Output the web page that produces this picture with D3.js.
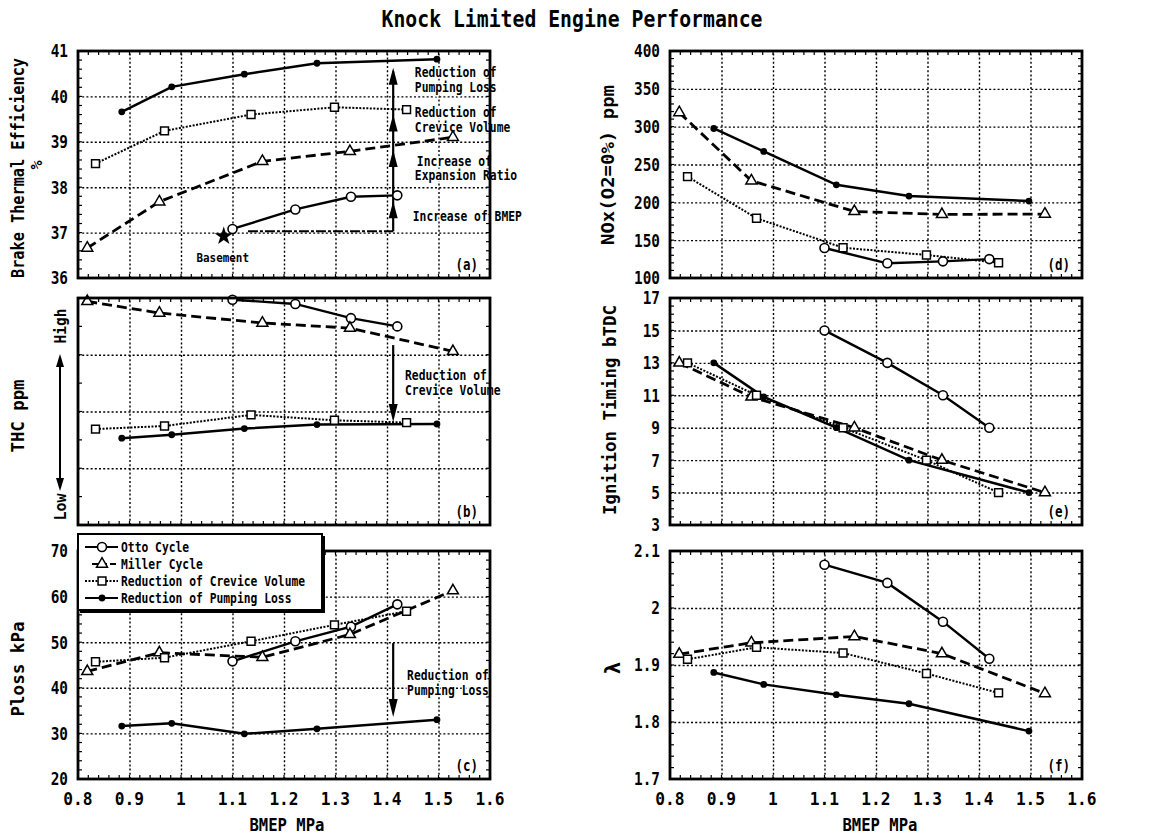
<!DOCTYPE html>
<html>
<head>
<meta charset="utf-8">
<script src="https://cdn.jsdelivr.net/npm/d3@7"></script>
<style>
  body { margin: 0; background: #fff; }
  text { font-family: 'DejaVu Sans Mono', 'Liberation Mono', monospace; font-weight: bold; fill: #000; }
</style>
</head>
<body>
<svg id="chart" width="1157" height="834"></svg>
<script>
// BMEP (MPa) of each test series
const bmepOtto = [1.10, 1.222, 1.33, 1.42];
const bmepMiller = [0.818, 0.958, 1.158, 1.328, 1.528];
const bmepCrevice = [0.834, 0.968, 1.136, 1.298, 1.438];
const bmepPumping = [0.885, 0.982, 1.123, 1.264, 1.497];

// (a) brake thermal efficiency %
const effOtto = [37.08, 37.51, 37.79, 37.82];
const effMiller = [36.66, 37.68, 38.57, 38.79, 39.10];
const effCrevice = [38.52, 39.24, 39.60, 39.76, 39.71];
const effPumping = [39.66, 40.21, 40.49, 40.73, 40.82];

// (b) THC, relative (low .. high)
const thcOtto = [7.94, 7.79, 7.29, 7.0];
const thcMiller = [7.88, 7.47, 7.12, 6.94, 6.12];
const thcCrevice = [3.38, 3.49, 3.88, 3.69, 3.61];
const thcPumping = [3.06, 3.18, 3.40, 3.54, 3.56];

// (c) Ploss kPa
const plossOtto = [45.8, 50.2, 53.4, 58.3];
const plossMiller = [43.6, 47.7, 46.7, 51.7, 61.3];
const plossCrevice = [45.7, 46.6, 50.2, 53.8, 56.8];
const plossPumping = [31.6, 32.2, 29.9, 31.0, 33.0];

// (d) NOx ppm
const noxOtto = [139.6, 119.4, 122, 125];
const noxMiller = [318.7, 228.5, 188, 184, 184.5];
const noxCrevice = [234, 179, 140, 130.4, 120.2];
const noxPumping = [297.6, 267.3, 223.2, 208.3, 201.7];

// (e) ignition timing bTDC
const ignOtto = [15, 13, 11, 9];
const ignMiller = [13, 10.9, 9.0, 7.0, 5.0];
const ignCrevice = [13, 11, 9, 7, 5];
const ignPumping = [13, 10.9, 9.0, 7.0, 5.0];

// (f) lambda
const lamOtto = [2.076, 2.044, 1.976, 1.911];
const lamMiller = [1.919, 1.939, 1.950, 1.920, 1.850];
const lamCrevice = [1.910, 1.931, 1.921, 1.885, 1.851];
const lamPumping = [1.887, 1.866, 1.848, 1.832, 1.784];

// tick labels
const bmepTicks = [0.8, 0.9, 1, 1.1, 1.2, 1.3, 1.4, 1.5, 1.6];
const effTicks = [36, 37, 38, 39, 40, 41];
const thcTicks = [0, 2, 4, 6, 8];
const plossTicks = [20, 30, 40, 50, 60, 70];
const noxTicks = [100, 150, 200, 250, 300, 350, 400];
const ignTicks = [3, 5, 7, 9, 11, 13, 15, 17];
const lamTicks = [1.7, 1.8, 1.9, 2, 2.1];

const seriesNames = ['Otto Cycle', 'Miller Cycle', 'Reduction of Crevice Volume', 'Reduction of Pumping Loss'];
const seriesBmep = [bmepOtto, bmepMiller, bmepCrevice, bmepPumping];
const lineDash = [null, '10,5', '2,1.5', null];
const lineWidth = [2.4, 2.8, 2, 2.5];
const markerKind = ['circle', 'triangle', 'square', 'dot'];

const svg = d3.select('#chart');
const rows = [[51, 278], [298, 525], [551, 779]];
const cols = [[78, 490], [670, 1082]];

// the original uses a narrow gothic font, so squeeze the monospace glyphs
function squeeze(sel, k, origin) {
    sel.style('transform-box', 'fill-box')
        .style('transform-origin', origin || 'center')
        .style('transform', 'scaleX(' + k + ')');
}

function fmt(d) { return String(+d.toFixed(2)); }

function drawMarker(g, kind, cx, cy) {
    if (kind === 'circle') {
        g.append('circle').attr('cx', cx).attr('cy', cy).attr('r', 4.5)
            .attr('fill', '#fff').attr('stroke', '#000').attr('stroke-width', 1.6);
    } else if (kind === 'dot') {
        g.append('circle').attr('cx', cx).attr('cy', cy).attr('r', 3.4).attr('fill', '#000');
    } else {
        const sym = kind === 'triangle' ? d3.symbol(d3.symbolTriangle, 52) : d3.symbol(d3.symbolSquare, 62);
        g.append('path').attr('transform', 'translate(' + cx + ',' + cy + ')').attr('d', sym())
            .attr('fill', '#fff').attr('stroke', '#000').attr('stroke-width', 1.5);
    }
}

function arrowHead(g, px, py, dir, w, h) {
    // dir = -1 points up, +1 points down; (px,py) is the tip
    g.append('path')
        .attr('d', 'M' + px + ',' + py + 'L' + (px - w / 2) + ',' + (py - dir * h) + 'L' + (px + w / 2) + ',' + (py - dir * h) + 'Z')
        .attr('fill', '#000');
}

function drawPanel(p) {
    const [x0, x1] = cols[p.col];
    const [y0, y1] = rows[p.row];
    const x = d3.scaleLinear().domain([0.8, 1.6]).range([x0, x1]);
    const y = d3.scaleLinear().domain([p.ticks[0], p.ticks[p.ticks.length - 1]]).range([y1, y0]);
    const g = svg.append('g');

    // dotted grid at the major ticks
    g.append('g').attr('transform', 'translate(0,' + y1 + ')')
        .call(d3.axisBottom(x).tickValues(bmepTicks.slice(1, -1)).tickSize(-(y1 - y0)).tickFormat(''))
        .call(s => s.select('.domain').remove())
        .selectAll('line').attr('stroke', '#000').attr('stroke-width', 1.4).attr('stroke-dasharray', '2,2.2');
    g.append('g').attr('transform', 'translate(' + x0 + ',0)')
        .call(d3.axisLeft(y).tickValues(p.ticks.slice(1, -1)).tickSize(-(x1 - x0)).tickFormat(''))
        .call(s => s.select('.domain').remove())
        .selectAll('line').attr('stroke', '#000').attr('stroke-width', 1.4).attr('stroke-dasharray', '2,2.2');

    // minor ticks on the inside of all four sides
    const lo = p.ticks[0], hi = p.ticks[p.ticks.length - 1];
    const yMinor = d3.range(lo + p.minor, hi - p.minor / 2, p.minor);
    const xMinor = d3.range(0.82, 1.59, 0.02);
    const tk = g.append('g').attr('stroke', '#000').attr('stroke-width', 1.2);
    xMinor.forEach(v => {
        tk.append('line').attr('x1', x(v)).attr('x2', x(v)).attr('y1', y1).attr('y2', y1 - 4);
        tk.append('line').attr('x1', x(v)).attr('x2', x(v)).attr('y1', y0).attr('y2', y0 + 4);
    });
    yMinor.forEach(v => {
        tk.append('line').attr('y1', y(v)).attr('y2', y(v)).attr('x1', x0).attr('x2', x0 + 4);
        tk.append('line').attr('y1', y(v)).attr('y2', y(v)).attr('x1', x1).attr('x2', x1 - 4);
    });

    // tick labels
    if (p.yLabels) {
        g.append('g').selectAll('text').data(p.ticks).join('text')
            .attr('x', x0 - 10).attr('y', d => y(d)).attr('dy', '0.36em')
            .attr('text-anchor', 'end').style('font-size', '18px').text(fmt)
            .call(squeeze, 0.8, 'right center');
    }
    if (p.xLabels) {
        g.append('g').selectAll('text').data(bmepTicks).join('text')
            .attr('x', d => x(d)).attr('y', y1 + 26)
            .attr('text-anchor', 'middle').style('font-size', '18px').text(fmt)
            .call(squeeze, 0.9, 'center');
    }

    // lines then markers
    const line = d3.line().x(d => x(d[0])).y(d => y(d[1]));
    const lineG = g.append('g');
    const markG = g.append('g');
    p.values.forEach((vals, i) => {
        const pts = d3.zip(seriesBmep[i], vals);
        lineG.append('path').datum(pts).attr('d', line)
            .attr('fill', 'none').attr('stroke', '#000')
            .attr('stroke-width', lineWidth[i])
            .attr('stroke-dasharray', lineDash[i]);
        pts.forEach(d => drawMarker(markG, markerKind[i], x(d[0]), y(d[1])));
    });
    const noteG = g.append('g');
    markG.raise();

    // frame and panel tag
    g.append('rect').attr('x', x0).attr('y', y0).attr('width', x1 - x0).attr('height', y1 - y0)
        .attr('fill', 'none').attr('stroke', '#000').attr('stroke-width', 2.8);
    g.append('text').attr('x', x1 - 12).attr('y', y1 - 8).attr('text-anchor', 'end')
        .style('font-size', '16px').text(p.tag).call(squeeze, 0.78, 'right center');

    return {x: x, y: y, g: noteG};
}

const panels = [
    {tag: '(a)', col: 0, row: 0, ticks: effTicks, minor: 0.2, yLabels: true, values: [effOtto, effMiller, effCrevice, effPumping]},
    {tag: '(b)', col: 0, row: 1, ticks: thcTicks, minor: 1, yLabels: false, values: [thcOtto, thcMiller, thcCrevice, thcPumping]},
    {tag: '(c)', col: 0, row: 2, ticks: plossTicks, minor: 2, yLabels: true, xLabels: true, values: [plossOtto, plossMiller, plossCrevice, plossPumping]},
    {tag: '(d)', col: 1, row: 0, ticks: noxTicks, minor: 10, yLabels: true, values: [noxOtto, noxMiller, noxCrevice, noxPumping]},
    {tag: '(e)', col: 1, row: 1, ticks: ignTicks, minor: 0.5, yLabels: true, values: [ignOtto, ignMiller, ignCrevice, ignPumping]},
    {tag: '(f)', col: 1, row: 2, ticks: lamTicks, minor: 0.02, yLabels: true, xLabels: true, values: [lamOtto, lamMiller, lamCrevice, lamPumping]}
];
const drawn = panels.map(drawPanel);

function note(g, px, py, str, size) {
    g.append('text').attr('x', px).attr('y', py).attr('dy', '0.35em')
        .style('font-size', (size || 13.5) + 'px')
        .attr('stroke', '#fff').attr('stroke-width', 3).attr('paint-order', 'stroke')
        .text(str).call(squeeze, 0.84, 'left center');
}

// (a) step-by-step improvements
(function() {
    const {x, y, g} = drawn[0];
    g.append('line').attr('x1', x(1.13)).attr('x2', x(1.412)).attr('y1', y(37.03)).attr('y2', y(37.03))
        .attr('stroke', '#000').attr('stroke-width', 2).attr('stroke-dasharray', '10,2,3,2');
    g.append('line').attr('x1', x(1.412)).attr('x2', x(1.412)).attr('y1', y(37.03)).attr('y2', y(40.55))
        .attr('stroke', '#000').attr('stroke-width', 2.2);
    [37.69, 38.82, 39.60, 40.63].forEach(v => arrowHead(g, x(1.412), y(v), -1, 9, 17));
    g.append('path').attr('transform', 'translate(' + x(1.083) + ',' + y(36.92) + ')')
        .attr('d', d3.symbol(d3.symbolStar, 105)()).attr('fill', '#000');
    g.append('text').attr('x', x(1.081)).attr('y', y(36.46)).attr('dy', '0.35em')
        .attr('text-anchor', 'middle').style('font-size', '13px').text('Basement')
        .call(squeeze, 0.84, 'center');
    note(g, x(1.454), y(40.54), 'Reduction of');
    note(g, x(1.454), y(40.21), 'Pumping Loss');
    note(g, x(1.454), y(39.66), 'Reduction of');
    note(g, x(1.454), y(39.33), 'Crevice Volume');
    note(g, x(1.458), y(38.57), 'Increase of');
    note(g, x(1.454), y(38.26), 'Expansion Ratio');
    note(g, x(1.45), y(37.36), 'Increase of BMEP');
})();

// (b) THC drop by crevice volume
(function() {
    const {x, y, g} = drawn[1];
    g.append('line').attr('x1', x(1.412)).attr('x2', x(1.412)).attr('y1', y(6.34)).attr('y2', y(4.1))
        .attr('stroke', '#000').attr('stroke-width', 2.2);
    arrowHead(g, x(1.412), y(3.63), 1, 9, 18);
    note(g, x(1.435), y(5.29), 'Reduction of');
    note(g, x(1.435), y(4.76), 'Crevice Volume');
})();

// (c) Ploss drop by pumping loss
(function() {
    const {x, y, g} = drawn[2];
    g.append('line').attr('x1', x(1.412)).attr('x2', x(1.412)).attr('y1', y(49.8)).attr('y2', y(36))
        .attr('stroke', '#000').attr('stroke-width', 2.2);
    arrowHead(g, x(1.412), y(33.6), 1, 9, 18);
    note(g, x(1.439), y(42.8), 'Reduction of');
    note(g, x(1.439), y(39.5), 'Pumping Loss');
})();

// rotated axis titles
function vtitle(cx, cy, str, len, size) {
    const t = svg.append('g').attr('transform', 'translate(' + cx + ',' + cy + ') rotate(-90)')
        .append('text').attr('text-anchor', 'middle').attr('dy', '0.36em')
        .style('font-size', (size || 18) + 'px').text(str);
    if (len) t.attr('textLength', len).attr('lengthAdjust', 'spacingAndGlyphs');
}
vtitle(18, 168, 'Brake Thermal Efficiency', 220);
vtitle(37, 165, '%', null, 15);
vtitle(18, 416, 'THC    ppm', 73);
vtitle(60, 326, 'High', 35, 16);
vtitle(60, 507, 'Low', 27, 16);
vtitle(18, 669, 'Ploss   kPa', 95);
vtitle(608, 165, 'NOx(O2=0%)   ppm', 160);
vtitle(610, 410, 'Ignition Timing  bTDC', 210);
svg.append('text').attr('x', 612).attr('y', 668).attr('dy', '0.36em').attr('text-anchor', 'middle')
    .attr('transform', 'rotate(-90,612,668)').style('font-size', '21px').text('\u03bb');

// High / Low double arrow
svg.append('line').attr('x1', 60).attr('x2', 60).attr('y1', 362).attr('y2', 483)
    .attr('stroke', '#000').attr('stroke-width', 2);
arrowHead(svg, 60, 354, -1, 8, 13);
arrowHead(svg, 60, 491, 1, 8, 13);

// x titles and main title
svg.append('text').attr('x', 287).attr('y', 831).attr('text-anchor', 'middle').style('font-size', '18px')
    .attr('textLength', 75).attr('lengthAdjust', 'spacingAndGlyphs').text('BMEP  MPa');
svg.append('text').attr('x', 880).attr('y', 831).attr('text-anchor', 'middle').style('font-size', '18px')
    .attr('textLength', 75).attr('lengthAdjust', 'spacingAndGlyphs').text('BMEP  MPa');
svg.append('text').attr('x', 572).attr('y', 27).attr('text-anchor', 'middle').style('font-size', '23px')
    .attr('textLength', 381).attr('lengthAdjust', 'spacingAndGlyphs').text('Knock Limited Engine Performance');

// legend box over panel (c)
const leg = svg.append('g');
leg.append('rect').attr('x', 80).attr('y', 536).attr('width', 245).attr('height', 77).attr('fill', '#000');
leg.append('rect').attr('x', 78).attr('y', 534).attr('width', 244).attr('height', 76)
    .attr('fill', '#fff').attr('stroke', '#000').attr('stroke-width', 2);
seriesNames.forEach((name, i) => {
    const ly = 547 + i * 17;
    leg.append('line').attr('x1', i === 1 ? 92 : 85).attr('x2', 118).attr('y1', ly).attr('y2', ly)
        .attr('stroke', '#000').attr('stroke-width', Math.min(lineWidth[i], 2))
        .attr('stroke-dasharray', i === 1 ? '6,3' : lineDash[i]);
    drawMarker(leg, markerKind[i], 102, ly);
    leg.append('text').attr('x', 121).attr('y', ly).attr('dy', '0.35em').style('font-size', '13.5px')
        .text(name).call(squeeze, 0.84, 'left center');
});
</script>
</body>
</html>
